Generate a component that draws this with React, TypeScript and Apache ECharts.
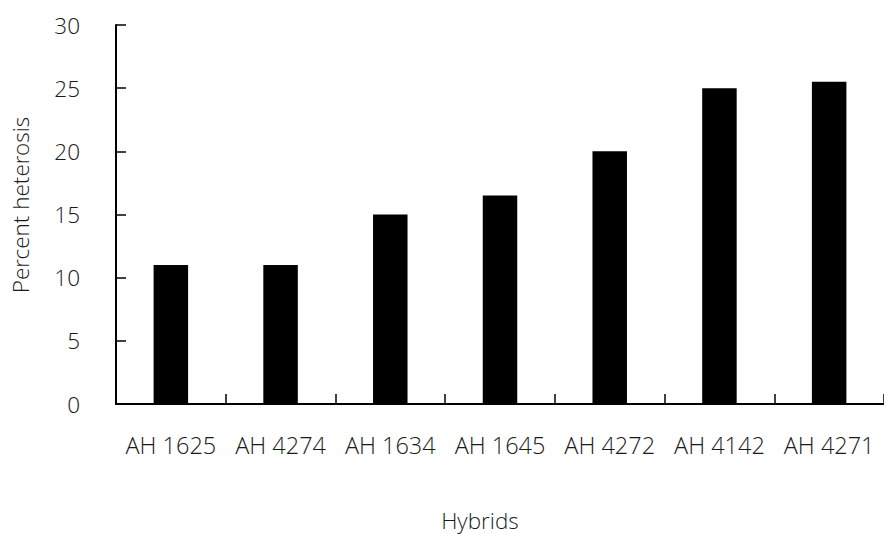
import React, { useEffect, useRef } from "react";
import * as echarts from "echarts";

const categories = ["AH 1625", "AH 4274", "AH 1634", "AH 1645", "AH 4272", "AH 4142", "AH 4271"];
const heterosis = [11, 11, 15, 16.5, 20, 25, 25.5];
const yTicks = { min: 0, max: 30, interval: 5 };
const xTitle = "Hybrids";
const yTitle = "Percent heterosis";

const FONT = "'Open Sans Light', 'Open Sans', 'DejaVu Sans', sans-serif";

export default function App() {
  const ref = useRef<HTMLDivElement>(null);
  useEffect(() => {
    if (!ref.current) return;
    const chart = echarts.init(ref.current, null, { renderer: "svg" });
    chart.setOption({
      animation: false,
      backgroundColor: "#ffffff",
      grid: { left: 116, top: 25, width: 777.5, height: 379, containLabel: false },
      xAxis: {
        type: "category",
        data: categories,
        boundaryGap: true,
        axisLine: { show: true, lineStyle: { color: "#000", width: 2 } },
        axisTick: { show: true, inside: true, length: 10, lineStyle: { color: "#000", width: 1.5 } },
        axisLabel: { color: "#1a1a1a", fontSize: 23.5, fontWeight: 300, fontFamily: FONT, margin: 29, interval: 0 },
        splitLine: { show: false },
      },
      yAxis: {
        type: "value",
        min: yTicks.min,
        max: yTicks.max,
        interval: yTicks.interval,
        axisLine: { show: true, lineStyle: { color: "#000", width: 2 } },
        axisTick: { show: true, inside: true, length: 10, lineStyle: { color: "#000", width: 1.5 } },
        axisLabel: { color: "#1a1a1a", fontSize: 22.5, fontWeight: 300, fontFamily: FONT, margin: 36 },
        splitLine: { show: false },
      },
      graphic: [
        {
          type: "text",
          x: 480,
          y: 520,
          style: {
            text: xTitle,
            fill: "#1a1a1a",
            fontSize: 22.5,
            fontWeight: 300,
            fontFamily: FONT,
            align: "center",
            verticalAlign: "middle",
          },
        },
        {
          type: "text",
          x: 20,
          y: 205,
          rotation: Math.PI / 2,
          style: {
            text: yTitle,
            fill: "#1a1a1a",
            fontSize: 22.5,
            fontWeight: 300,
            fontFamily: FONT,
            align: "center",
            verticalAlign: "middle",
          },
        },
      ],
      series: [
        {
          type: "bar",
          data: heterosis,
          barWidth: 34.5,
          itemStyle: { color: "#000" },
        },
      ],
    });
    return () => chart.dispose();
  }, []);
  return (
    <div
      ref={ref}
      style={{ position: "fixed", left: 0, top: 0, width: 884, height: 534 }}
    />
  );
}
